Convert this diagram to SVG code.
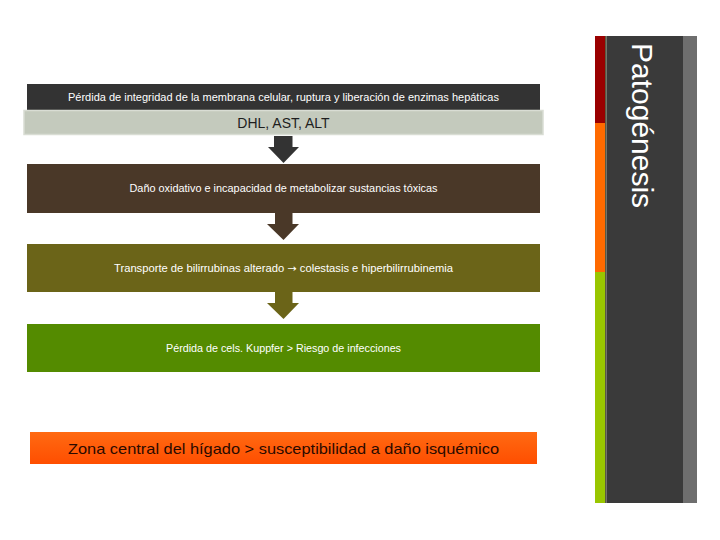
<svg xmlns="http://www.w3.org/2000/svg" width="720" height="540" viewBox="0 0 720 540">
<defs>
<linearGradient id="og" x1="0" y1="0" x2="0" y2="1">
<stop offset="0" stop-color="#ff6a12"/>
<stop offset="1" stop-color="#ff4e00"/>
</linearGradient>
<style>
.t{font-family:"Liberation Sans","Open Sans",sans-serif;text-anchor:middle;}
.w{fill:#ffffff;font-size:10px;}
.ar{font-family:"DejaVu Sans",sans-serif;}
</style>
</defs>
<rect width="720" height="540" fill="#ffffff"/>
<g id="sidebar">
<rect x="595" y="36" width="11" height="87" fill="#9a0000"/>
<rect x="595" y="123" width="11" height="149" fill="#ff6a00"/>
<rect x="595" y="272" width="11" height="231" fill="#99c600"/>
<rect x="605" y="36" width="1.5" height="467" fill="#5a5a40"/>
<rect x="606.5" y="36" width="77" height="467" fill="#3a3a3a"/>
<rect x="683" y="36" width="14" height="467" fill="#6e6e6e"/>
<text class="t" x="632" y="43" transform="rotate(90 632 43)" style="text-anchor:start;font-size:30px;fill:#ffffff">Patogénesis</text>
</g>
<g id="connectors">
<polygon points="274,136 292.5,136 292.5,147 299,147 283.5,163 268,147 274,147" fill="#333333"/>
<polygon points="275,213 292.5,213 292.5,224 299,224 283.5,240 267,224 275,224" fill="#4a3828"/>
<polygon points="275,292 292.5,292 292.5,303 299,303 283.5,319 267,303 275,303" fill="#6b6418"/>
</g>
<g id="n1">
<rect x="27" y="84" width="513" height="26" fill="#333333"/>
<text class="t w" x="283.5" y="101" textLength="431" lengthAdjust="spacingAndGlyphs">Pérdida de integridad de la membrana celular, ruptura y liberación de enzimas hepáticas</text>
</g>
<g id="n2">
<rect x="24" y="110.5" width="519" height="24" fill="#c4cabd" stroke="#d9ddd4" stroke-width="1.5"/>
<text class="t" x="283.5" y="128" style="font-size:14px;fill:#1e1e1e">DHL, AST, ALT</text>
</g>
<g id="n3">
<rect x="27" y="164" width="513" height="49" fill="#4a3828"/>
<text class="t w" x="283.5" y="192" textLength="308" lengthAdjust="spacingAndGlyphs">Daño oxidativo e incapacidad de metabolizar sustancias tóxicas</text>
</g>
<g id="n4">
<rect x="27" y="244" width="513" height="48" fill="#6b6418"/>
<text class="t w" x="283.5" y="272" textLength="339" lengthAdjust="spacingAndGlyphs">Transporte de bilirrubinas alterado <tspan class="ar">→</tspan> colestasis e hiperbilirrubinemia</text>
</g>
<g id="n5">
<rect x="27" y="324" width="513" height="48" fill="#548b00"/>
<text class="t w" x="283.5" y="352" textLength="235" lengthAdjust="spacingAndGlyphs">Pérdida de cels. Kuppfer &gt; Riesgo de infecciones</text>
</g>
<g id="n6">
<rect x="30" y="432" width="507" height="32" fill="url(#og)"/>
<text class="t" x="283.5" y="454" style="font-size:15px;fill:#2a0a00" textLength="431" lengthAdjust="spacingAndGlyphs">Zona central del hígado &gt; susceptibilidad a daño isquémico</text>
</g>
</svg>
